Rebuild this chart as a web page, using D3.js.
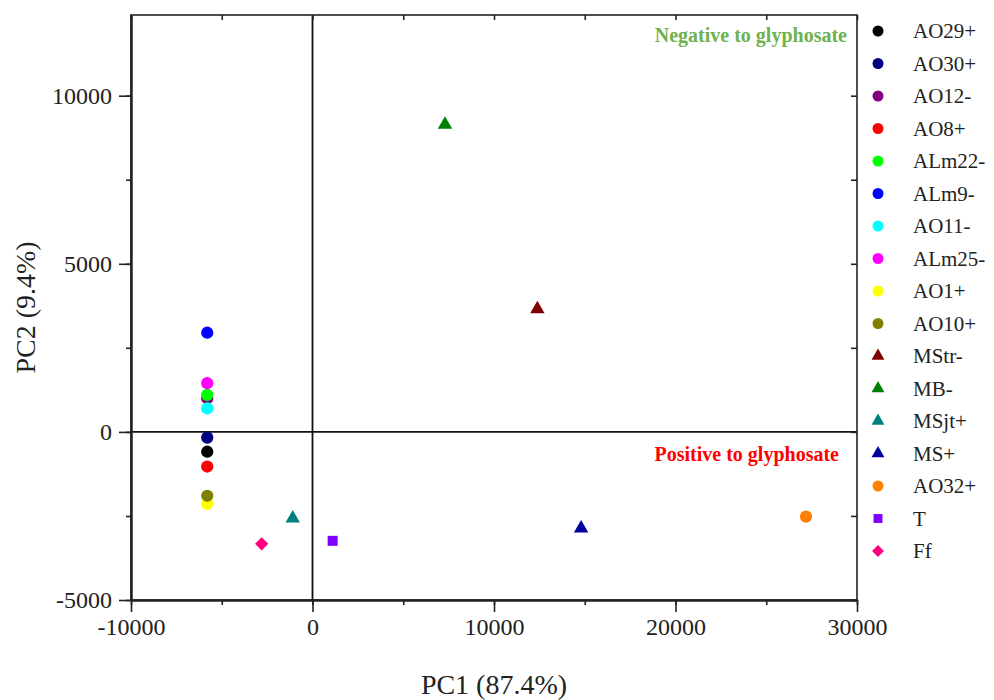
<!DOCTYPE html>
<html>
<head>
<meta charset="utf-8">
<script src="https://cdn.jsdelivr.net/npm/d3@7"></script>
<style>
  body { margin: 0; background: #fff; }
</style>
</head>
<body>
<div id="viz"></div>
<script>
const width = 994;
const height = 700;
const plot = {left: 131, right: 857, top: 15, bottom: 600};
const serif = '"Liberation Serif", "Times New Roman", serif';

// PCA scores (legend order = drawing order)
const samples = ['AO29+', 'AO30+', 'AO12-', 'AO8+', 'ALm22-', 'ALm9-', 'AO11-', 'ALm25-', 'AO1+',
                 'AO10+', 'MStr-', 'MB-', 'MSjt+', 'MS+', 'AO32+', 'T', 'Ff'];
const pc1 = [-5800, -5800, -5800, -5800, -5800, -5800, -5800, -5800, -5800,
             -5800, 12390, 7300, -1090, 14800, 27190, 1110, -2800];
const pc2 = [-590, -170, 1000, -1030, 1100, 2950, 700, 1450, -2140,
             -1900, 3650, 9140, -2570, -2870, -2520, -3240, -3330];
const sampleColors = ['#000000', '#000080', '#800080', '#ff0000', '#00ff00', '#0000ff', '#00ffff', '#ff00ff', '#ffff00',
                      '#808000', '#800000', '#008000', '#008080', '#0000a0', '#ff8000', '#8000ff', '#ff0080'];
const sampleShapes = ['circle', 'circle', 'circle', 'circle', 'circle', 'circle', 'circle', 'circle', 'circle',
                      'circle', 'triangle', 'triangle', 'triangle', 'triangle', 'circle', 'square', 'diamond'];

const xTicks = [-10000, 0, 10000, 20000, 30000];
const yTicks = [-5000, 0, 5000, 10000];
const xLabel = 'PC1 (87.4%)';
const yLabel = 'PC2 (9.4%)';
const noteTop = 'Negative to glyphosate';
const noteBottom = 'Positive to glyphosate';

const data = samples.map((s, i) => ({name: s, x: pc1[i], y: pc2[i], color: sampleColors[i], shape: sampleShapes[i]}));

const svg = d3.select('#viz')
  .append('svg')
    .attr('width', width)
    .attr('height', height)
    .attr('font-family', serif);

const xScale = d3.scaleLinear().domain([-10000, 30000]).range([plot.left, plot.right]);
const yScale = d3.scaleLinear().domain([-5000, 12400]).range([plot.bottom, plot.top]);

// plain hyphen for negatives, like the original
const fmt = d => String(d);

// symbol generator, sizes in px^2
const symbolPath = function (shape, scale) {
  const k = scale || 1;
  if (shape === 'triangle') return d3.symbol(d3.symbolTriangle, 90 * k)();
  if (shape === 'square') return d3.symbol(d3.symbolSquare, 100 * k)();
  if (shape === 'diamond') return d3.symbol(d3.symbolSquare, 88 * k)();
  return d3.symbol(d3.symbolCircle, 118 * k)();
};

// zero lines
svg.append('line')
  .attr('x1', xScale(0)).attr('x2', xScale(0))
  .attr('y1', plot.top).attr('y2', plot.bottom)
  .attr('stroke', '#111').attr('stroke-width', 1.8);
svg.append('line')
  .attr('x1', plot.left).attr('x2', plot.right)
  .attr('y1', yScale(0)).attr('y2', yScale(0))
  .attr('stroke', '#111').attr('stroke-width', 1.8);

// frame
svg.append('rect')
  .attr('x', plot.left).attr('y', plot.top)
  .attr('width', plot.right - plot.left).attr('height', plot.bottom - plot.top)
  .attr('fill', 'none').attr('stroke', '#222').attr('stroke-width', 1.6);

const minorX = d3.range(-10000, 30001, 5000);
const minorY = d3.range(-5000, 12001, 2500);

const styleAxis = g => {
  g.attr('font-family', serif);
  g.select('.domain').attr('stroke', '#222').attr('stroke-width', 2);
  g.selectAll('.tick line').attr('stroke', '#222').attr('stroke-width', 1.6);
  g.selectAll('text').attr('fill', '#222').attr('font-family', serif).style('font-size', '24px');
};

// bottom axis
svg.append('g')
  .attr('transform', `translate(0, ${plot.bottom})`)
  .call(d3.axisBottom(xScale).tickValues(minorX).tickSize(5).tickSizeOuter(0).tickFormat(''))
  .call(styleAxis);
svg.append('g')
  .attr('transform', `translate(0, ${plot.bottom})`)
  .call(d3.axisBottom(xScale).tickValues(xTicks).tickSize(12).tickSizeOuter(0).tickPadding(6).tickFormat(fmt))
  .call(styleAxis);

// left axis
svg.append('g')
  .attr('transform', `translate(${plot.left}, 0)`)
  .call(d3.axisLeft(yScale).tickValues(minorY).tickSize(5).tickSizeOuter(0).tickFormat(''))
  .call(styleAxis);
svg.append('g')
  .attr('transform', `translate(${plot.left}, 0)`)
  .call(d3.axisLeft(yScale).tickValues(yTicks).tickSize(12).tickSizeOuter(0).tickPadding(7).tickFormat(fmt))
  .call(styleAxis);

// mirrored ticks on top and right, pointing inward
svg.append('g')
  .attr('transform', `translate(0, ${plot.top})`)
  .call(d3.axisBottom(xScale).tickValues(minorX).tickSize(5).tickSizeOuter(0).tickFormat(''))
  .call(g => g.select('.domain').remove())
  .call(g => g.selectAll('.tick line').attr('stroke', '#222').attr('stroke-width', 1.6));
svg.append('g')
  .attr('transform', `translate(${plot.right}, 0)`)
  .call(d3.axisLeft(yScale).tickValues(minorY).tickSize(0).tickSizeOuter(0).tickFormat(''))
  .call(g => g.select('.domain').remove())
  .call(g => g.selectAll('.tick line').attr('x2', -6).attr('stroke', '#222').attr('stroke-width', 1.6));

// axis titles
svg.append('text')
  .attr('x', (plot.left + plot.right) / 2)
  .attr('y', 694)
  .attr('text-anchor', 'middle')
  .attr('fill', '#222')
  .style('font-size', '28px')
  .text(xLabel);
svg.append('text')
  .attr('transform', `translate(35, ${(plot.top + plot.bottom) / 2}) rotate(-90)`)
  .attr('text-anchor', 'middle')
  .attr('fill', '#222')
  .style('font-size', '28px')
  .text(yLabel);

// notes
svg.append('text')
  .attr('x', 847).attr('y', 42)
  .attr('text-anchor', 'end')
  .attr('fill', '#6fb14f')
  .style('font-size', '20px')
  .style('font-weight', 700)
  .text(noteTop);
svg.append('text')
  .attr('x', 839).attr('y', 461)
  .attr('text-anchor', 'end')
  .attr('fill', '#ff0000')
  .style('font-size', '20px')
  .style('font-weight', 700)
  .text(noteBottom);

// points
svg.append('g')
  .selectAll('path')
  .data(data)
  .join('path')
    .attr('d', d => symbolPath(d.shape))
    .attr('transform', d => `translate(${xScale(d.x)}, ${yScale(d.y)})` + (d.shape === 'diamond' ? ' rotate(45)' : ''))
    .attr('fill', d => d.color);

// legend
const legend = svg.append('g')
  .attr('transform', 'translate(878, 31)');
const rows = legend.selectAll('g')
  .data(data)
  .join('g')
    .attr('transform', (d, i) => `translate(0, ${i * 32.5})`);
rows.append('path')
  .attr('d', d => symbolPath(d.shape, 0.8))
  .attr('transform', d => d.shape === 'diamond' ? 'rotate(45)' : null)
  .attr('fill', d => d.color);
rows.append('text')
  .attr('x', 35)
  .attr('y', 7)
  .attr('fill', '#222')
  .style('font-size', '21px')
  .text(d => d.name);
</script>
</body>
</html>
